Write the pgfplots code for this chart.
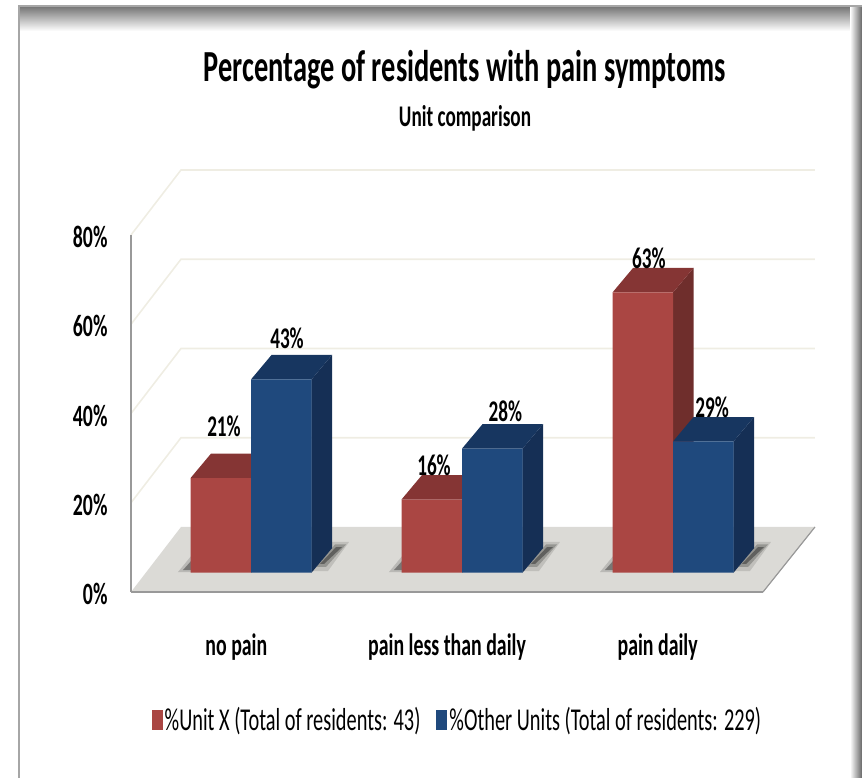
\documentclass[border=0pt]{standalone}
\usepackage{fontspec}
\setmainfont[FakeStretch=0.64]{Carlito}
\usepackage{pgfplots}
\pgfplotsset{compat=1.18}
\definecolor{barred}{HTML}{AA4643}
\definecolor{barredtop}{HTML}{853534}
\definecolor{barredside}{HTML}{6F2E2C}
\definecolor{barblue}{HTML}{1F497D}
\definecolor{barbluetop}{HTML}{173660}
\definecolor{barblueside}{HTML}{152F55}
\definecolor{gridc}{HTML}{EFEDE3}
\definecolor{floorc}{HTML}{DBDAD6}
\definecolor{axisc}{HTML}{999999}
\newcommand\shad[1]{%
\addplot[forget plot,fill=black,draw=none,opacity=.12,xshift=#1pt] coordinates {(.2844,.38)(.3839,6.88)(.4645,6.88)(.3649,.38)} -- cycle;
\addplot[forget plot,fill=black,draw=none,opacity=.22,xshift=#1pt] coordinates {(.3081,1.28)(.3981,6.32)(.4502,6.32)(.3555,1.28)} -- cycle;
\addplot[forget plot,fill=black,draw=none,opacity=.35,xshift=#1pt] coordinates {(.327,1.95)(.4028,5.74)(.4313,5.74)(.346,1.95)} -- cycle;
\addplot[forget plot,fill=black,draw=none,opacity=.15,xshift=#1pt] coordinates {(-.2796,.15)(-.346,.15)(-.2796,3.97)} -- cycle;
\addplot[forget plot,fill=black,draw=none,opacity=.35,xshift=#1pt] coordinates {(-.2796,.6)(-.3223,.6)(-.2796,2.85)} -- cycle;
}
\begin{document}
\begin{tikzpicture}[x=1pt,y=1pt]
\path[use as bounding box] (0,0) rectangle (862,778);
% frame
\shade[top color=black!55,bottom color=white] (18,772) rectangle (862,747);
\fill[black!35] (18,0) rectangle (20,772);
\shade[left color=white,right color=black!60] (850,0) rectangle (862,772);
\fill[black!35] (18,771) rectangle (862,772.5);
% title
\node[font=\bfseries\fontsize{44.4}{48}\selectfont,anchor=center] at (465,708) {Percentage of residents with pain symptoms};
\node[font=\bfseries\fontsize{30}{33}\selectfont,anchor=center] at (465,660) {Unit comparison};
% walls, floor and value axis
\begin{axis}[at={(131pt,186pt)},anchor=south west,scale only axis,width=632pt,height=357pt,
  xmin=-0.5,xmax=2.5,ymin=0,ymax=80,clip=false,axis on top,
  axis lines=left,axis line style={-,draw=axisc,line width=1.8pt},
  xtick={0,1,2},xticklabels={no pain,pain less than daily,pain daily},
  ytick={0,20,40,60,80},yticklabel={\pgfmathprintnumber{\tick}\%},
  /pgf/number format/assume math mode=true,
  major tick length=0pt,
  tick label style={font=\bfseries\fontsize{31}{34}\selectfont},
  xticklabel style={yshift=-38pt},
  yticklabel style={xshift=-20pt,yshift=-2pt}]
\addplot[fill=floorc,draw=none] coordinates {(-.5,0)(-.2627,14.57)(2.7468,14.57)(2.5,0)} -- cycle;
\addplot[draw=axisc,line width=1.2pt] coordinates {(2.5,0)(2.7468,14.57)};
\addplot[draw=gridc,line width=1.6pt] coordinates {(-.5,20)(-.2627,34.57)(2.7468,34.57)};
\addplot[draw=gridc,line width=1.6pt] coordinates {(-.5,40)(-.2627,54.57)(2.7468,54.57)};
\addplot[draw=gridc,line width=1.6pt] coordinates {(-.5,60)(-.2627,74.57)(2.7468,74.57)};
\addplot[draw=gridc,line width=1.6pt] coordinates {(-.5,80)(-.2627,94.57)(2.7468,94.57)};
\end{axis}
% bars
\begin{axis}[at={(145.5pt,205.3pt)},anchor=south west,scale only axis,width=633pt,height=357pt,
  xmin=-0.5,xmax=2.5,ymin=0,ymax=80,clip=false,hide axis,
  legend columns=2,
  legend style={at={(0.0095,-0.4126)},anchor=west,draw=none,fill=none,inner sep=0pt,
    font=\fontsize{31.8}{34}\selectfont,
    /tikz/every even column/.append style={column sep=14pt}},
  legend cell align=left]
\shad{0}\shad{211}\shad{422}
% red side and top faces
\addplot[forget plot,fill=barredside,draw=none] coordinates {(0,0)(.0972,5.49)(.0972,26.69)(0,21.2)} -- cycle;
\addplot[forget plot,fill=barredtop,draw=none] coordinates {(-.2867,21.2)(-.1895,26.69)(.0972,26.69)(0,21.2)} -- cycle;
\addplot[forget plot,fill=barredside,draw=none] coordinates {(1,0)(1.0972,5.49)(1.0972,21.89)(1,16.4)} -- cycle;
\addplot[forget plot,fill=barredtop,draw=none] coordinates {(.7133,16.4)(.8105,21.89)(1.0972,21.89)(1,16.4)} -- cycle;
\addplot[forget plot,fill=barredside,draw=none] coordinates {(2,0)(2.0972,5.49)(2.0972,68.29)(2,62.8)} -- cycle;
\addplot[forget plot,fill=barredtop,draw=none] coordinates {(1.7133,62.8)(1.8105,68.29)(2.0972,68.29)(2,62.8)} -- cycle;
% red fronts
\addplot[ybar,bar width=60.5pt,bar shift=-30.25pt,fill=barred,draw=none,
  legend image code/.code={\fill[barred] (0pt,-10pt) rectangle (11pt,10pt);}]
  coordinates {(0,21.2)(1,16.4)(2,62.8)};
\addlegendentry{\%Unit X (Total of residents: 43)}
% blue side and top faces
\addplot[forget plot,fill=barblueside,draw=none] coordinates {(.2867,0)(.3839,5.49)(.3839,48.79)(.2867,43.3)} -- cycle;
\addplot[forget plot,fill=barbluetop,draw=none] coordinates {(0,43.3)(.0972,48.79)(.3839,48.79)(.2867,43.3)} -- cycle;
\addplot[forget plot,fill=barblueside,draw=none] coordinates {(1.2867,0)(1.3839,5.49)(1.3839,33.29)(1.2867,27.8)} -- cycle;
\addplot[forget plot,fill=barbluetop,draw=none] coordinates {(1,27.8)(1.0972,33.29)(1.3839,33.29)(1.2867,27.8)} -- cycle;
\addplot[forget plot,fill=barblueside,draw=none] coordinates {(2.2867,0)(2.3839,5.49)(2.3839,34.89)(2.2867,29.4)} -- cycle;
\addplot[forget plot,fill=barbluetop,draw=none] coordinates {(2,29.4)(2.0972,34.89)(2.3839,34.89)(2.2867,29.4)} -- cycle;
% blue fronts
\addplot[ybar,bar width=60.5pt,bar shift=30.25pt,fill=barblue,draw=none,
  legend image code/.code={\fill[barblue] (0pt,-10pt) rectangle (11pt,10pt);}]
  coordinates {(0,43.3)(1,27.8)(2,29.4)};
\addlegendentry{\%Other Units (Total of residents: 229)}
% value labels
\addplot[forget plot,draw=none,mark=none,point meta=explicit symbolic,
  nodes near coords={\pgfplotspointmeta\%},
  every node near coord/.append style={anchor=center,inner sep=0pt,yshift=0pt,font=\bfseries\fontsize{30}{33}\selectfont}]
  coordinates {(-.128,32.87)[21](.1706,52.6)[43](.8673,24.13)[16](1.206,36.24)[28](1.886,70.5)[63](2.185,37.13)[29]};
\end{axis}
\end{tikzpicture}
\end{document}
